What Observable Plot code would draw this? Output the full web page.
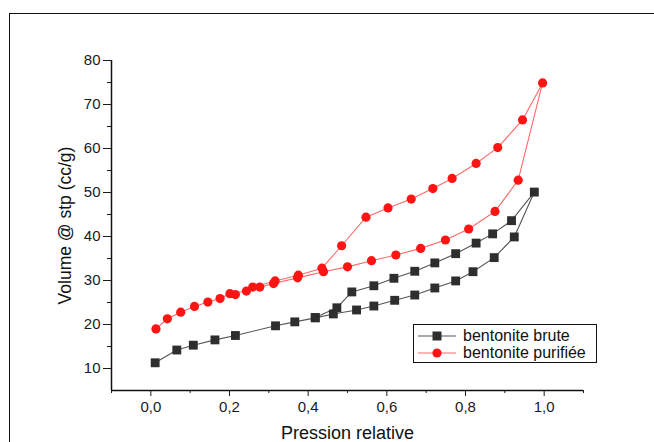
<!DOCTYPE html>
<html>
<head>
<meta charset="utf-8">
<script src="https://cdn.jsdelivr.net/npm/d3@7"></script>
<script src="https://cdn.jsdelivr.net/npm/@observablehq/plot@0.6"></script>
<style>
  html, body { margin: 0; padding: 0; background: #fff; overflow: hidden; }
  #wrap { position: relative; width: 654px; height: 442px; overflow: hidden; font-family: "Liberation Sans", Arial, sans-serif; }
  #frame { position: absolute; left: 9px; top: 13px; width: 700px; height: 500px; border-top: 1.6px solid #111; border-left: 1.6px solid #111; }
  #chart { position: absolute; left: 0; top: 0; }
  #legend { position: absolute; left: 413px; top: 324px; width: 184px; height: 39px; box-sizing: border-box; border: 1.4px solid #111; background: #fff; }
  .row { position: absolute; left: 0; height: 18px; display: flex; align-items: center; font-size: 16px; color: #111; white-space: nowrap; }
  .row svg { margin-left: 3px; margin-right: 6px; }
</style>
</head>
<body>
<div id="wrap">
  <div id="frame"></div>
  <div id="chart"></div>
  <div id="legend"></div>
</div>
<script>
// Series names
const seriesNames = ["bentonite brute", "bentonite purifiée"];

// bentonite brute: adsorption (increasing) then desorption (decreasing)
const bruteX = [0.011, 0.066, 0.108, 0.163, 0.215, 0.317, 0.366, 0.418, 0.464, 0.523, 0.567, 0.620, 0.671, 0.722, 0.775, 0.819, 0.873, 0.924, 0.975,
                0.917, 0.869, 0.827, 0.775, 0.722, 0.671, 0.618, 0.567, 0.511, 0.473, 0.418];
const bruteY = [11.3, 14.2, 15.3, 16.5, 17.5, 19.7, 20.6, 21.5, 22.4, 23.3, 24.2, 25.5, 26.7, 28.3, 29.9, 32.0, 35.2, 39.9, 50.1,
                43.6, 40.6, 38.5, 36.1, 34.0, 32.1, 30.5, 28.8, 27.4, 23.8, 21.6];

// bentonite purifiée: adsorption then desorption
const purifieeX = [0.013, 0.042, 0.076, 0.111, 0.145, 0.176, 0.201, 0.243, 0.277, 0.312, 0.373, 0.439, 0.500, 0.561, 0.623, 0.686, 0.749, 0.808, 0.875, 0.934, 0.996,
                   0.945, 0.882, 0.827, 0.766, 0.717, 0.662, 0.603, 0.547, 0.485, 0.435, 0.375, 0.316, 0.259, 0.215];
const purifieeY = [19.0, 21.3, 22.8, 24.1, 25.1, 25.9, 27.0, 27.6, 28.5, 29.3, 30.6, 32.0, 33.1, 34.5, 35.8, 37.3, 39.2, 41.7, 45.7, 52.8, 74.9,
                   66.5, 60.2, 56.6, 53.2, 50.9, 48.5, 46.5, 44.4, 37.9, 32.8, 31.2, 29.9, 28.5, 26.8];

// Axes
const xDomain = [-0.1, 1.1];
const yDomain = [5, 80];
const xMajor = [0, 0.2, 0.4, 0.6, 0.8, 1.0];
const xMinor = [-0.1, 0.1, 0.3, 0.5, 0.7, 0.9, 1.1];
const yMajor = [10, 20, 30, 40, 50, 60, 70, 80];
const yMinor = [15, 25, 35, 45, 55, 65, 75];
const xLabel = "Pression relative";
const yLabel = "Volume @ stp (cc/g)";

const brute = bruteX.map((x, i) => ({x, y: bruteY[i]}));
const purifiee = purifieeX.map((x, i) => ({x, y: purifieeY[i]}));

const colBruteLine = "#555", colBruteDot = "#2e2e2e";
const colPurLine = "#ff6a6a", colPurDot = "#ff1414";

const chart = Plot.plot({
  width: 654,
  height: 442,
  marginLeft: 111,
  marginRight: 71,
  marginTop: 60,
  marginBottom: 52,
  x: {domain: xDomain},
  y: {domain: yDomain},
  style: {fontFamily: '"Liberation Sans", Arial, sans-serif', fontSize: "15px", color: "#1a1a1a", background: "transparent", overflow: "visible"},
  marks: [
    Plot.ruleX([xDomain[0]], {y1: yDomain[0], y2: yDomain[1], stroke: "#111", strokeWidth: 1.5}),
    Plot.ruleY([yDomain[0]], {x1: xDomain[0], x2: xDomain[1], stroke: "#111", strokeWidth: 1.5}),
    Plot.axisY(yMajor, {tickSize: 8, tickPadding: 3, tickFormat: d => String(d), label: null, fontSize: 15}),
    Plot.axisY(yMinor, {tickSize: 4, tickFormat: () => "", label: null}),
    Plot.axisX(xMajor, {tickSize: 6, tickPadding: 5, tickFormat: d => d.toFixed(1).replace(".", ","), label: null, fontSize: 15}),
    Plot.axisX(xMinor, {tickSize: 3, tickFormat: () => "", label: null}),
    Plot.line(brute, {x: "x", y: "y", stroke: colBruteLine, strokeWidth: 1.1}),
    Plot.line(purifiee, {x: "x", y: "y", stroke: colPurLine, strokeWidth: 1.1}),
    Plot.dot(brute, {x: "x", y: "y", symbol: "square", r: 5, fill: colBruteDot, stroke: "none"}),
    Plot.dot(purifiee, {x: "x", y: "y", symbol: "circle", r: 4.6, fill: colPurDot, stroke: "none"}),
    Plot.text([xLabel], {text: d => d, frameAnchor: "bottom", dy: 43, lineAnchor: "middle", fontSize: 18, fill: "#111"}),
    Plot.text([yLabel], {text: d => d, frameAnchor: "left", dx: -46, rotate: -90, textAnchor: "middle", lineAnchor: "middle", fontSize: 17.5, fill: "#111"})
  ]
});
document.getElementById("chart").appendChild(chart);

// Legend
const legend = document.getElementById("legend");
const specs = [
  {name: seriesNames[0], line: colBruteLine, dot: colBruteDot, sym: "square", top: 2},
  {name: seriesNames[1], line: colPurLine, dot: colPurDot, sym: "circle", top: 19}
];
specs.forEach(s => {
  const row = document.createElement("div");
  row.className = "row";
  row.style.top = s.top + "px";
  const marker = s.sym === "square"
    ? `<rect x="15.5" y="4.5" width="9" height="9" fill="${s.dot}"/>`
    : `<circle cx="20" cy="9" r="4.6" fill="${s.dot}"/>`;
  row.innerHTML = `<svg width="40" height="18"><line x1="1" y1="9" x2="39" y2="9" stroke="${s.line}" stroke-width="1.2"/>${marker}</svg><span>${s.name}</span>`;
  legend.appendChild(row);
});
</script>
</body>
</html>
